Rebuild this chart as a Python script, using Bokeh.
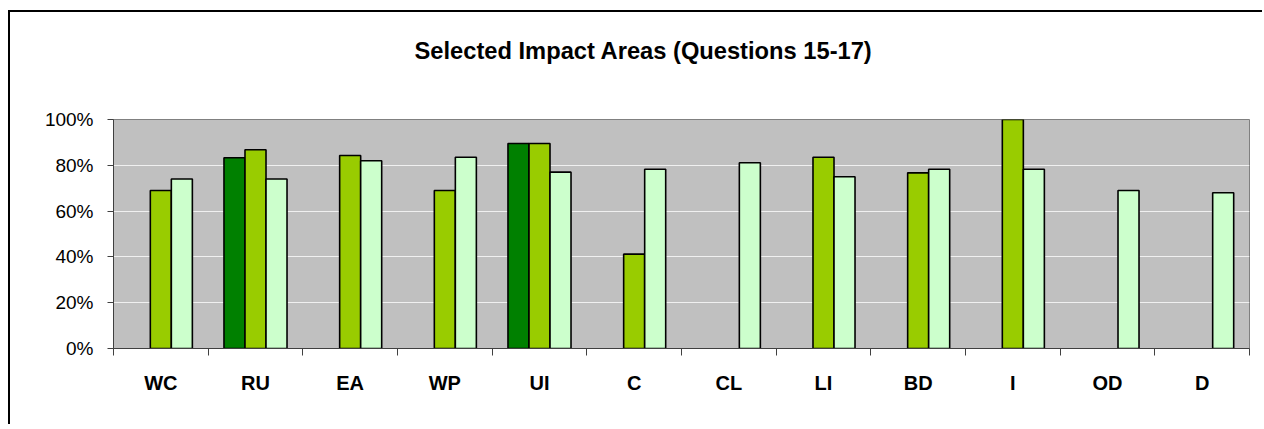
from bokeh.plotting import figure
from bokeh.models import FixedTicker, NumeralTickFormatter, Range1d, Title
from bokeh.embed import file_html
from bokeh.resources import INLINE

nan = float("nan")

categories = ["WC", "RU", "EA", "WP", "UI", "C", "CL", "LI", "BD", "I", "OD", "D"]
series_dark = [nan, 0.833, nan, nan, 0.895, nan, nan, nan, nan, nan, nan, nan]
series_mid = [0.69, 0.868, 0.843, 0.69, 0.895, 0.412, nan, 0.835, 0.767, 1.0, nan, nan]
series_light = [0.74, 0.74, 0.82, 0.835, 0.77, 0.783, 0.811, 0.75, 0.783, 0.783, 0.69, 0.68]
series_names = ["Series 1", "Series 2", "Series 3"]
colors = ["#008000", "#99CC00", "#CCFFCC"]
y_ticks = [0, 0.2, 0.4, 0.6, 0.8, 1.0]
title_text = "Selected Impact Areas (Questions 15-17)"

p = figure(width=1254, height=414, output_backend="svg", toolbar_location=None,
           x_range=Range1d(0, len(categories)), y_range=Range1d(0, 1), title=None,
           min_border_left=103, min_border_right=15, min_border_top=107, min_border_bottom=78)
p.styles = {"border-left": "2px solid black", "border-top": "2px solid black",
            "margin-left": "8px", "margin-top": "10px"}

# spacer between title and plot area, then the title itself
p.add_layout(Title(text=" ", text_font_size="1px", standoff=53), "above")
p.add_layout(Title(text=title_text, text_font="Liberation Sans", text_font_size="23.7px",
                   text_font_style="bold", text_color="black", align="left",
                   offset=301, standoff=0), "above")

p.background_fill_color = "#C0C0C0"
p.border_fill_color = "white"
p.outline_line_color = "#808080"
p.outline_line_width = 1

bw = 0.222
for k, (vals, col, name) in enumerate(zip([series_dark, series_mid, series_light], colors, series_names)):
    xs = [i + 0.5 + (k - 1) * bw for i in range(len(categories))]
    p.vbar(x=xs, top=vals, bottom=0, width=bw, fill_color=col, line_color="black",
           line_width=1.6, legend_label=name)

p.legend.visible = False

# y axis
p.yaxis.ticker = FixedTicker(ticks=y_ticks)
p.yaxis.formatter = NumeralTickFormatter(format="0%")
p.yaxis.major_label_text_font = "Liberation Sans"
p.yaxis.major_label_text_font_size = "19px"
p.yaxis.major_label_text_color = "black"
p.yaxis.major_tick_out = 6
p.yaxis.major_tick_in = 0
p.yaxis.minor_tick_line_color = None
p.yaxis.axis_line_color = "#404040"
p.yaxis.major_tick_line_color = "#404040"
p.yaxis.major_label_standoff = 14

# x axis
centers = [i + 0.5 for i in range(len(categories))]
p.xaxis.ticker = FixedTicker(ticks=centers, minor_ticks=list(range(len(categories) + 1)))
p.xaxis.major_label_overrides = {c: lab for c, lab in zip(centers, categories)}
p.xaxis.major_label_text_font = "Liberation Sans"
p.xaxis.major_label_text_font_size = "20px"
p.xaxis.major_label_text_font_style = "bold"
p.xaxis.major_label_text_color = "black"
p.xaxis.major_tick_line_color = None
p.xaxis.major_tick_out = 7
p.xaxis.minor_tick_out = 7
p.xaxis.minor_tick_in = 0
p.xaxis.minor_tick_line_color = "#404040"
p.xaxis.axis_line_color = "#404040"
p.xaxis.major_label_standoff = 16

p.xgrid.visible = False
p.ygrid.ticker = FixedTicker(ticks=[0.2, 0.4, 0.6, 0.8])
p.ygrid.grid_line_color = "#F0F0F0"
p.ygrid.grid_line_width = 1

open("out.html", "w").write(file_html(p, INLINE))
